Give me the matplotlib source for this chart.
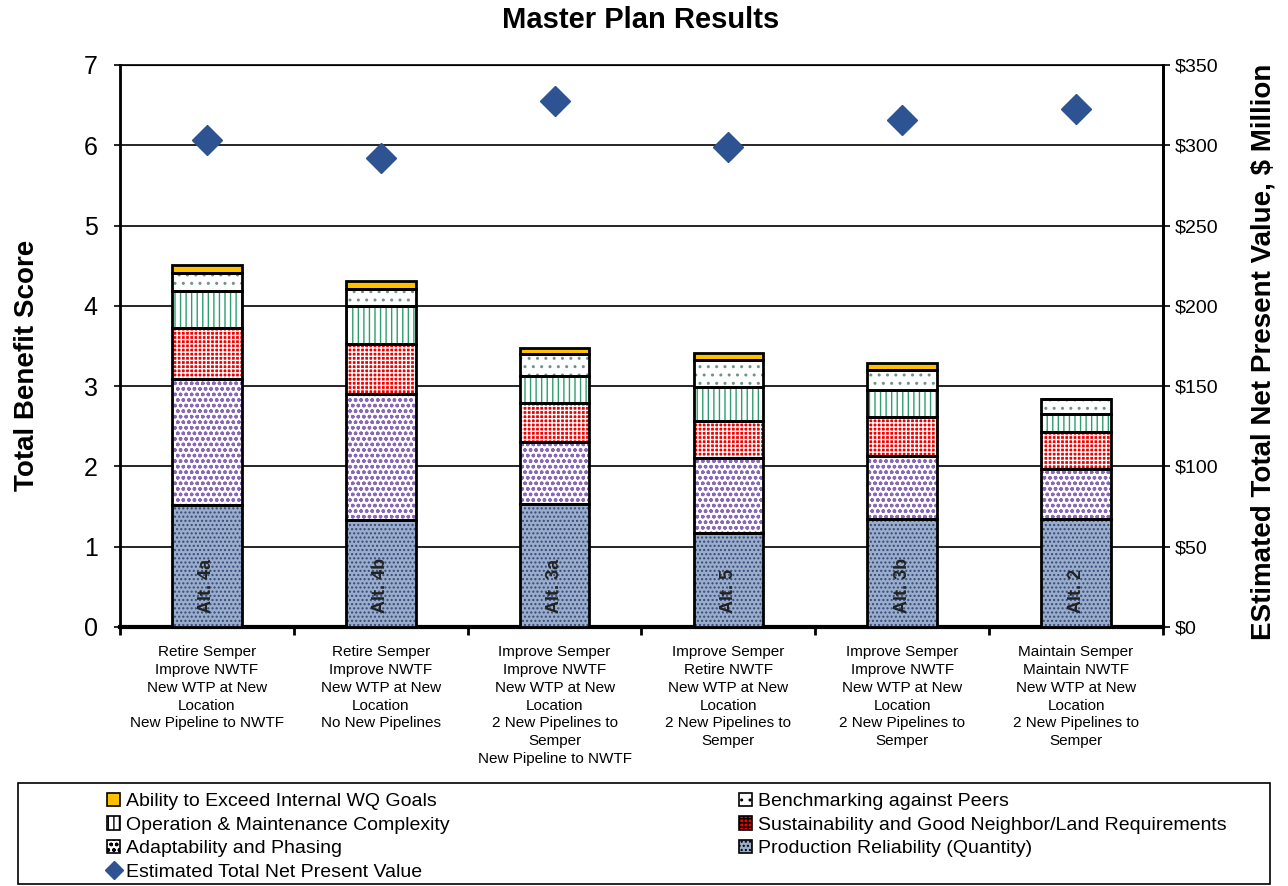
import matplotlib
matplotlib.use("Agg")
import matplotlib.pyplot as plt
from matplotlib.patches import Patch, Rectangle
from matplotlib.lines import Line2D
import numpy as np

plt.rcParams['font.family'] = ['Liberation Sans', 'DejaVu Sans']
plt.rcParams['hatch.linewidth'] = 1.0

# 数据
alts = ['Alt. 4a', 'Alt. 4b', 'Alt. 3a', 'Alt. 5', 'Alt. 3b', 'Alt. 2']
cat_labels = [
    'Retire Semper\nImprove NWTF\nNew WTP at New\nLocation\nNew Pipeline to NWTF',
    'Retire Semper\nImprove NWTF\nNew WTP at New\nLocation\nNo New Pipelines',
    'Improve Semper\nImprove NWTF\nNew WTP at New\nLocation\n2 New Pipelines to\nSemper\nNew Pipeline to NWTF',
    'Improve Semper\nRetire NWTF\nNew WTP at New\nLocation\n2 New Pipelines to\nSemper',
    'Improve Semper\nImprove NWTF\nNew WTP at New\nLocation\n2 New Pipelines to\nSemper',
    'Maintain Semper\nMaintain NWTF\nNew WTP at New\nLocation\n2 New Pipelines to\nSemper',
]
production = [1.52, 1.33, 1.53, 1.17, 1.35, 1.34]
adaptability = [1.57, 1.57, 0.78, 0.93, 0.78, 0.63]
sustainability = [0.63, 0.63, 0.48, 0.47, 0.49, 0.46]
om_complexity = [0.47, 0.47, 0.34, 0.42, 0.33, 0.22]
benchmarking = [0.22, 0.21, 0.27, 0.34, 0.25, 0.19]
wq_goals = [0.10, 0.10, 0.07, 0.08, 0.09, 0.0]
npv = [303, 292, 327.5, 299, 316, 322.5]  # $ Million

# 每层: (数值, 名称, 底色, 填充图案, 图案颜色)
layers = [
    (production, 'Production Reliability (Quantity)', '#9AADCB', '....', '#34497A'),
    (adaptability, 'Adaptability and Phasing', 'white', 'ooo', '#8A68B8'),
    (sustainability, 'Sustainability and Good Neighbor/Land Requirements', '#F00000', '++++', 'white'),
    (om_complexity, 'Operation & Maintenance Complexity', 'white', '|||', '#2E9E6E'),
    (benchmarking, 'Benchmarking against Peers', 'white', '..', '#6E9488'),
    (wq_goals, 'Ability to Exceed Internal WQ Goals', '#FFC000', None, None),
]

W, H = 1288, 886
fig = plt.figure(figsize=(W / 100, H / 100), dpi=100)
ax = fig.add_axes([120 / W, 1 - 627 / H, 1043 / W, 562 / H])

x = np.arange(len(alts))
bw = 0.4
bottom = np.zeros(len(alts))
for vals, name, face, hatch, hcol in layers:
    vals = np.array(vals)
    if hatch:
        ax.bar(x, vals, bw, bottom=bottom, color=face, hatch=hatch,
               edgecolor=hcol, linewidth=0, zorder=3)
    else:
        ax.bar(x, vals, bw, bottom=bottom, color=face, linewidth=0, zorder=3)
    ax.bar(x, vals, bw, bottom=bottom, fill=False, edgecolor='black',
           linewidth=2, zorder=4)
    bottom += vals

for xi, name in zip(x, alts):
    ax.text(xi, 0.17, name, rotation=90, ha='center', va='bottom',
            fontsize=13, fontweight='bold', color='#222222', zorder=5)

ax.set_xlim(-0.5, len(alts) - 0.5)
ax.set_ylim(0, 7)
ax.set_yticks(range(8))
ax.tick_params(axis='y', labelsize=18, length=4, width=1.2, pad=12)
ax.yaxis.grid(True, color='black', linewidth=1.2, zorder=0)
ax.set_axisbelow(True)

ax.set_xticks(x)
ax.set_xticklabels(cat_labels, fontsize=11, linespacing=1.35, va='top')
ax.tick_params(axis='x', which='major', length=0, pad=13)
ax.set_xticks(np.arange(-0.5, len(alts)), minor=True)
ax.tick_params(axis='x', which='minor', length=6, width=2, direction='out')

for side, lw in [('left', 2), ('bottom', 3), ('right', 2), ('top', 1.2)]:
    ax.spines[side].set_linewidth(lw)

ax.set_ylabel('Total Benefit Score', fontsize=20, fontweight='bold')
ax.yaxis.set_label_coords(-0.0767, 0.465)

ax2 = ax.twinx()
ax2.set_ylim(0, 350)
ax2.set_yticks(range(0, 351, 50))
ax2.set_yticklabels([f'${v}' for v in range(0, 351, 50)])
ax2.tick_params(axis='y', labelsize=14, length=5, width=1.2)
ax2.plot(x, npv, linestyle='none', marker='D', markersize=15,
         color='#2E5393', markeredgecolor='#2E5393', zorder=6)
ax2.set_ylabel('EStimated Total Net Present Value, $ Million', fontsize=20,
               fontweight='bold', rotation=90)
ax2.yaxis.set_label_coords(1.0835, 0.49)
ax2.spines['right'].set_linewidth(2)

fig.text(641 / W, 1 - 20 / H, 'Master Plan Results', ha='center', va='center',
         fontsize=21, fontweight='bold')

# 图例边框
fig.patches.append(Rectangle((18 / W, 2 / H), 1252 / W, 101 / H,
                             transform=fig.transFigure, fill=False,
                             edgecolor='black', linewidth=1.2))

def layer_patch(i):
    vals, name, face, hatch, hcol = layers[i]
    return Patch(facecolor=face, edgecolor='black', hatch=hatch, linewidth=1.2, label=name)

diamond = Line2D([], [], linestyle='none', marker='D', markersize=9,
                 color='#2E5393', label='Estimated Total Net Present Value')

left_handles = [layer_patch(5), layer_patch(3), layer_patch(1), diamond]
right_handles = [layer_patch(4), layer_patch(2), layer_patch(0)]
leg_kw = dict(frameon=False, fontsize=14, handlelength=0.7, handleheight=0.7,
              handletextpad=0.3, labelspacing=0.3, borderpad=0)
fig.legend(handles=left_handles, loc='upper left',
           bbox_to_anchor=(97 / W, 1 - 783 / H), **leg_kw)
fig.legend(handles=right_handles, loc='upper left',
           bbox_to_anchor=(729 / W, 1 - 783 / H), **leg_kw)

fig.savefig('out.png', dpi=100)
